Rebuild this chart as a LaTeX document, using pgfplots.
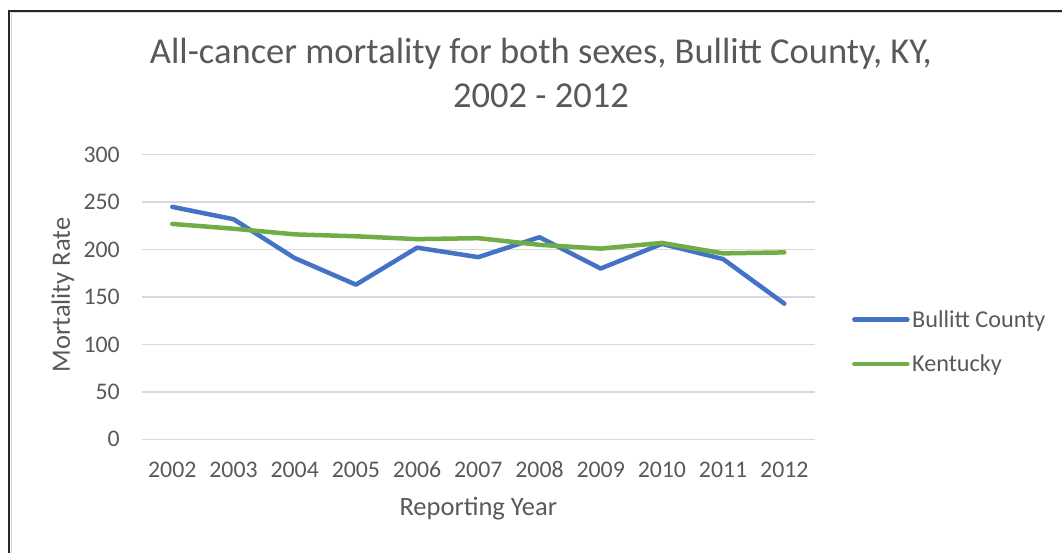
\documentclass[border=0pt]{standalone}
\usepackage{pgfplots}
\pgfplotsset{compat=1.18}
\usepackage{fontspec}
\setmainfont{Carlito}
\definecolor{cblue}{HTML}{4472C4}
\definecolor{cgreen}{HTML}{70AD47}
\definecolor{ctext}{HTML}{595959}
\definecolor{cgrid}{HTML}{D9D9D9}
\pgfplotstableread{
x year bullitt kentucky
0 2002 245 227
1 2003 232 222
2 2004 191 216
3 2005 163 214
4 2006 202 211
5 2007 192 212
6 2008 213 205
7 2009 180 201
8 2010 206 207
9 2011 190 196
10 2012 143 197
}\datatable
\begin{document}
\begin{tikzpicture}[x=1pt,y=1pt]
\useasboundingbox (0,0) rectangle (1062,553);
\draw[color=black!85, line width=1.6pt] (9.2,0) -- (9.2,542.2) -- (1062,542.2);
\draw[color=cgrid, line width=1pt] (11.2,0) -- (11.2,540.2) -- (1062,540.2);
\begin{axis}[
  at={(141.7pt,113.7pt)}, anchor=south west,
  scale only axis, width=673.2pt, height=284.6pt,
  xmin=-0.5, xmax=10.5, ymin=0, ymax=300,
  axis line style={draw=none},
  ymajorgrids, grid style={cgrid, line width=1.3pt},
  ytick={0,50,...,300},
  xtick={0,...,10},
  xticklabels={2002,2003,2004,2005,2006,2007,2008,2009,2010,2011,2012},
  major tick length=0pt,
  /pgf/number format/assume math mode=true,
  tick label style={font=\fontsize{23.8}{28}\selectfont, text=ctext},
  yticklabel style={anchor=east, inner sep=0pt, xshift=-21.7pt},
  xticklabel style={anchor=base, inner sep=0pt, yshift=-38pt},
  xlabel={Reporting Year},
  ylabel={Mortality Rate},
  label style={font=\fontsize{26.5}{30}\selectfont, text=ctext, inner sep=0pt},
  xlabel style={at={(axis description cs:0.5,-0.2695)}, anchor=base},
  ylabel style={at={(axis description cs:-0.1065,0.507)}, anchor=base},
  title={\begin{tabular}[t]{@{}c@{}}All-cancer mortality for both sexes, Bullitt County, KY,\\2002 - 2012\end{tabular}},
  title style={at={(axis description cs:0.593,1.301)}, anchor=base,
    font=\fontsize{36.5}{44.3}\selectfont, text=ctext, inner sep=0pt},
  legend style={draw=none, fill=none, at={(axis description cs:1.055,0.3426)}, anchor=west,
    inner sep=0pt, row sep=21.5pt, nodes={inner sep=2.5pt, font=\fontsize{24.2}{28}\selectfont, text=ctext},
    cells={anchor=west}},
  legend image code/.code={\draw[#1] (0pt,0pt) -- (53pt,0pt);},
  every axis plot/.append style={line width=4.5pt, line join=round, line cap=round},
]
\addplot[cblue] table[x=x, y=bullitt] {\datatable};
\addlegendentry{Bullitt County}
\addplot[cgreen] table[x=x, y=kentucky] {\datatable};
\addlegendentry{Kentucky}
\end{axis}
\end{tikzpicture}
\end{document}
